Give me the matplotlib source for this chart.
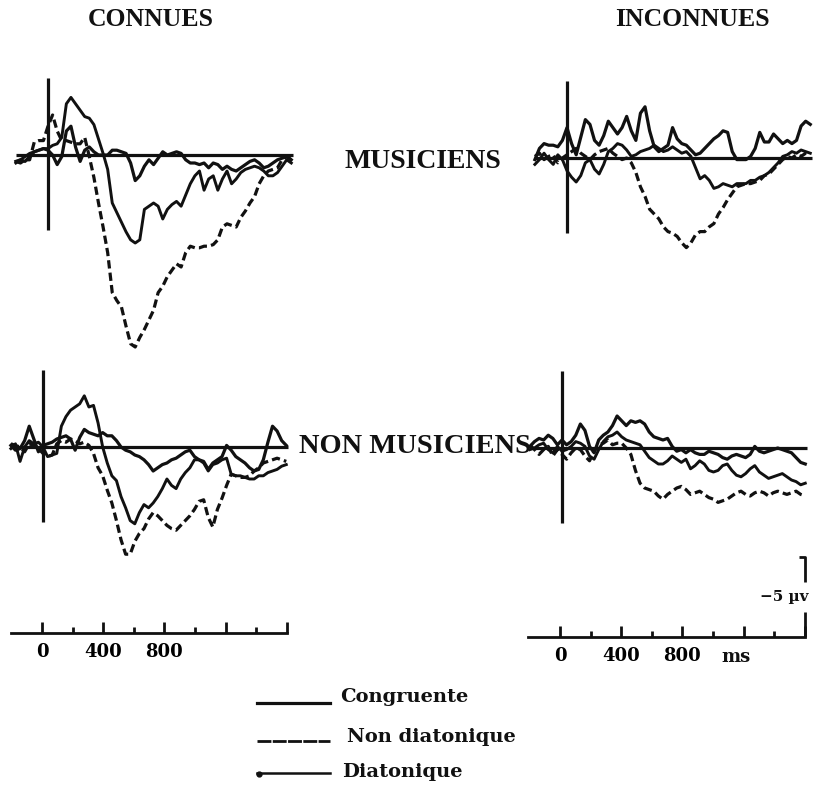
import matplotlib
matplotlib.use("Agg")
import matplotlib.pyplot as plt
from matplotlib.lines import Line2D

# ---------------------------------------------------------------- data
# Grand-average ERPs, amplitude in microvolts (negative plotted upward),
# sampled every 30 ms from -210 ms to 1590 ms after note onset.
TIME_MS = list(range(-210, 1591, 30))

CONDITIONS = ["Congruente", "Non diatonique", "Diatonique"]

# Familiar melodies (CONNUES), musicians
conn_mus_congruente = [0.4, 0.3, 0.4, 0.1, -0.2, -0.3, -0.4, -0.3, 0.0, 0.6, 0.1, -1.5, -1.8, -0.5, 0.4, -0.3,
                       -0.5, -0.2, 0.0, 0.0, 0.0, -0.3, -0.3, -0.2, -0.1, 0.5, 1.6, 1.3, 0.7, 0.3, 0.6, 0.2,
                       -0.2, 0.0, -0.1, -0.2, -0.1, 0.3, 0.5, 0.5, 0.6, 0.5, 0.8, 0.5, 0.6, 0.9, 0.7, 0.9,
                       1.0, 0.8, 0.6, 0.4, 0.3, 0.5, 0.8, 0.7, 0.5, 0.3, 0.2, 0.1, 0.3]
conn_mus_nondiat = [0.4, 0.5, 0.3, 0.3, -0.8, -0.9, -0.9, -1.8, -2.5, -1.5, -0.9, -0.9, -0.8, -0.7, -0.7, -1.1,
                    0.1, 1.4, 3.0, 4.5, 6.1, 8.6, 9.1, 9.5, 10.7, 11.8, 12.0, 11.4, 10.9, 10.3, 9.7, 8.6,
                    8.2, 7.6, 7.2, 6.8, 7.0, 6.1, 5.7, 5.8, 5.8, 5.7, 5.7, 5.6, 5.3, 4.5, 4.3, 4.4,
                    4.5, 3.9, 3.5, 3.0, 2.6, 1.8, 1.3, 1.0, 0.9, 0.8, 0.3, 0.1, 0.3]
conn_mus_diat = [0.5, 0.3, 0.1, -0.1, -0.2, -0.3, -0.4, -0.4, -0.6, -0.7, -1.1, -3.2, -3.6, -3.2, -2.8, -2.4,
                 -2.3, -1.9, -1.0, -0.1, 0.9, 3.0, 3.6, 4.2, 4.8, 5.3, 5.5, 5.3, 3.4, 3.2, 3.0, 3.2,
                 4.0, 3.4, 3.1, 2.9, 3.2, 2.5, 1.8, 1.3, 1.0, 2.2, 1.5, 1.3, 2.2, 1.5, 1.0, 1.8,
                 1.5, 1.1, 0.9, 0.8, 0.7, 0.8, 1.0, 1.3, 1.3, 1.1, 0.7, 0.3, 0.5]

# Unfamiliar melodies (INCONNUES), musicians
inc_mus_congruente = [0.1, -0.6, -0.9, -0.8, -0.8, -0.7, -1.1, -1.9, -0.9, -0.2, -1.3, -2.4, -2.1, -1.1, -0.8, -1.4,
                      -2.3, -1.9, -1.5, -1.9, -2.6, -1.7, -1.1, -2.8, -3.2, -1.7, -0.7, -0.4, -0.6, -0.8, -1.9, -1.2,
                      -0.9, -0.8, -0.5, -0.2, -0.3, -0.6, -0.9, -1.2, -1.4, -1.7, -1.6, -0.4, 0.1, 0.1, 0.1, -0.1,
                      -0.6, -1.6, -1.0, -1.0, -1.5, -1.2, -0.9, -1.1, -0.9, -1.1, -2.0, -2.3, -2.1]
inc_mus_nondiat = [-0.1, -0.3, 0.1, -0.1, -0.2, 0.3, 0.0, -0.2, -0.4, -0.6, -0.3, -0.1, 0.1, -0.2, -0.4, -0.5,
                   -0.6, -0.3, -0.1, 0.1, 0.0, 0.3, 0.9, 1.8, 2.4, 3.2, 3.5, 3.8, 4.3, 4.6, 4.7, 4.9,
                   5.3, 5.6, 5.3, 4.8, 4.6, 4.6, 4.3, 4.1, 3.5, 3.1, 2.6, 2.2, 1.8, 1.7, 1.6, 1.6,
                   1.5, 1.4, 1.1, 1.0, 0.7, 0.4, 0.1, -0.1, 0.0, -0.2, -0.1, -0.3, -0.2]
inc_mus_diat = [0.4, 0.1, -0.3, 0.1, 0.4, -0.2, 0.1, 0.8, 1.2, 1.5, 1.1, 0.3, 0.1, 0.7, 1.0, 0.4,
                -0.4, -0.6, -0.9, -0.8, -0.5, -0.1, -0.2, -0.4, -0.5, -0.6, -0.8, -0.6, -0.4, -0.5, -0.7, -0.5,
                -0.3, -0.4, -0.1, 0.6, 1.3, 1.1, 1.4, 1.9, 1.8, 1.6, 1.7, 1.8, 1.6, 1.6, 1.6, 1.4,
                1.4, 1.2, 1.1, 0.9, 0.6, 0.3, -0.1, -0.2, -0.4, -0.3, -0.5, -0.4, -0.3]

# Familiar melodies (CONNUES), non-musicians
conn_non_congruente = [-0.1, 0.2, 0.1, -0.4, -1.3, -0.5, 0.3, -0.1, -0.2, -0.3, -0.5, -0.6, -0.7, -0.5, 0.2, -0.6,
                       -1.1, -0.9, -0.8, -0.7, -0.9, -0.7, -0.7, -0.4, 0.0, 0.2, 0.3, 0.5, 0.6, 0.8, 1.1, 1.5,
                       1.3, 1.1, 1.0, 0.8, 0.7, 0.5, 0.3, 0.2, 0.6, 0.8, 0.9, 1.4, 1.0, 0.8, 0.6, -0.1,
                       0.2, 0.6, 0.8, 1.0, 1.3, 1.5, 1.4, 0.8, -0.3, -1.3, -1.0, -0.4, -0.1]
conn_non_nondiat = [-0.2, -0.1, 0.0, 0.3, -0.2, -0.1, 0.1, 0.4, 0.6, 0.5, -0.2, -0.4, -0.3, -0.5, -0.4, -0.2,
                    -0.3, -0.1, 0.4, 1.3, 1.8, 2.7, 3.5, 4.6, 5.8, 6.7, 6.7, 5.9, 5.4, 5.1, 4.5, 4.1,
                    4.3, 4.6, 4.9, 5.1, 5.2, 4.9, 4.6, 4.3, 3.9, 3.4, 3.3, 4.4, 5.0, 3.9, 3.2, 2.4,
                    1.7, 1.8, 1.9, 1.9, 1.8, 1.5, 1.3, 1.0, 0.9, 0.8, 0.7, 0.8, 0.9]
conn_non_diat = [0.1, -0.2, 0.9, 0.0, -0.4, -0.2, -0.3, 0.0, 0.6, 0.5, 0.4, -1.3, -1.9, -2.3, -2.5, -2.7,
                 -3.2, -2.5, -2.6, -1.5, 0.0, 1.0, 1.8, 2.1, 3.1, 3.8, 4.6, 4.8, 4.1, 3.6, 3.8, 3.5,
                 3.1, 2.6, 2.0, 2.4, 2.6, 2.0, 1.6, 1.3, 0.8, 0.8, 1.0, 1.5, 1.1, 1.0, 0.8, 0.7,
                 1.7, 1.8, 1.8, 1.9, 2.0, 2.0, 1.8, 1.8, 1.6, 1.5, 1.4, 1.2, 1.1]

# Unfamiliar melodies (INCONNUES), non-musicians
inc_non_congruente = [-0.1, -0.4, -0.6, -0.5, -0.8, -0.6, -0.2, -0.5, -0.2, -0.4, -0.8, -1.5, -1.1, -0.1, 0.3, -0.5,
                      -0.8, -1.0, -1.4, -2.0, -1.7, -1.4, -1.7, -1.6, -1.7, -1.5, -1.0, -0.7, -0.6, -0.5, -0.6, -0.1,
                      0.2, 0.1, 0.3, 0.1, 0.3, 0.4, 0.4, 0.2, 0.3, 0.4, 0.6, 0.7, 0.5, 0.4, 0.5, 0.6,
                      0.4, -0.1, 0.2, 0.3, 0.2, 0.1, 0.0, 0.1, 0.2, 0.3, 0.6, 0.9, 1.0]
inc_non_nondiat = [-0.2, 0.1, 0.4, 0.1, -0.1, 0.5, 0.1, 0.4, 0.7, 0.3, 0.0, 0.1, 0.5, 0.8, 0.2, -0.2,
                   -0.3, -0.5, -0.2, -0.3, -0.3, 0.0, 0.4, 1.4, 2.2, 2.5, 2.6, 2.7, 3.0, 3.2, 2.9, 2.7,
                   2.5, 2.4, 2.6, 2.9, 2.8, 2.7, 2.9, 3.1, 3.2, 3.4, 3.3, 3.2, 3.0, 2.8, 2.7, 2.9,
                   3.0, 2.8, 2.7, 2.8, 3.0, 2.8, 2.7, 2.8, 2.9, 2.8, 2.7, 2.9, 3.0]
inc_non_diat = [0.1, 0.0, -0.2, -0.3, 0.1, 0.3, -0.1, 0.2, 0.1, -0.1, -0.4, -0.3, -0.1, 0.5, 0.7, 0.1,
                -0.4, -0.7, -0.8, -1.0, -0.7, -0.5, -0.4, -0.3, -0.2, 0.2, 0.6, 0.8, 1.0, 1.0, 0.8, 0.5,
                0.7, 0.9, 0.7, 1.3, 1.1, 0.8, 1.0, 1.4, 1.5, 1.4, 1.1, 1.0, 1.4, 1.7, 1.8, 1.6,
                1.3, 1.1, 1.5, 1.7, 1.9, 1.8, 1.7, 1.6, 1.8, 2.0, 2.1, 2.3, 2.2]

TIME_TICKS_MAJOR = [0, 400, 800, 1200, 1600]
TIME_TICKS_MINOR = [200, 600, 1000, 1400]
TIME_TICK_LABELS = ["0", "400", "800", "", ""]
CALIBRATION_UV = -5

# ---------------------------------------------------------------- layout
W, H = 814, 787
PX_PER_MS = 0.153
PX_PER_UV = 16.0
INK = "#111111"

fig = plt.figure(figsize=(W / 100, H / 100), dpi=100)
fig.patch.set_facecolor("white")

SERIF = ["Liberation Serif", "DejaVu Serif"]
WIDE_SERIF = ["DejaVu Serif"]


def px_axes(left_px, top_px, width_px, height_px):
    ax = fig.add_axes([left_px / W, 1 - (top_px + height_px) / H, width_px / W, height_px / H])
    ax.patch.set_alpha(0)
    return ax


def erp_panel(x0_px, base_px, traces):
    t_lo, t_hi, v_up, v_dn = -240, 1640, -6.5, 13.0
    ax = px_axes(x0_px + t_lo * PX_PER_MS, base_px + v_up * PX_PER_UV,
                 (t_hi - t_lo) * PX_PER_MS, (v_dn - v_up) * PX_PER_UV)
    ax.set_xlim(t_lo, t_hi)
    ax.set_ylim(v_dn, v_up)          # negative up
    ax.axis("off")
    ax.plot([-210, 1600], [0, 0], color=INK, lw=2.3, solid_capstyle="butt")
    ax.plot([0, 0], [-4.8, 4.7], color=INK, lw=2.3, solid_capstyle="butt")
    styles = {
        "Congruente": dict(lw=2.3, ls="-"),
        "Non diatonique": dict(lw=2.3, ls=(0, (2.6, 1.3)), dash_capstyle="butt"),
        "Diatonique": dict(lw=2.1, ls="-"),
    }
    for name, values in zip(CONDITIONS, traces):
        ax.plot(TIME_MS, values, color=INK, solid_joinstyle="round", **styles[name])
    return ax


erp_panel(48, 155, [conn_mus_congruente, conn_mus_nondiat, conn_mus_diat])
erp_panel(567, 158, [inc_mus_congruente, inc_mus_nondiat, inc_mus_diat])
erp_panel(43, 447, [conn_non_congruente, conn_non_nondiat, conn_non_diat])
erp_panel(562, 448, [inc_non_congruente, inc_non_nondiat, inc_non_diat])


def time_axis(x0_px, axis_y_px, t_lo):
    ax = px_axes(x0_px + t_lo * PX_PER_MS, axis_y_px - 20, (1600 - t_lo) * PX_PER_MS, 20)
    ax.set_xlim(t_lo, 1600)
    ax.set_ylim(0, 1)
    for side in ("left", "right", "top"):
        ax.spines[side].set_visible(False)
    ax.spines["bottom"].set_linewidth(2.0)
    ax.spines["bottom"].set_color(INK)
    ax.set_yticks([])
    ax.set_xticks(TIME_TICKS_MAJOR)
    ax.set_xticklabels(TIME_TICK_LABELS)
    ax.set_xticks(TIME_TICKS_MINOR, minor=True)
    ax.tick_params(axis="x", which="major", direction="in", length=8, width=2.0, color=INK,
                   pad=7, labelsize=13)
    ax.tick_params(axis="x", which="minor", direction="in", length=4.5, width=2.0, color=INK)
    for lab in ax.get_xticklabels():
        lab.set_fontfamily(WIDE_SERIF)
        lab.set_fontweight("bold")
    return ax


time_axis(42, 633, -200)
right_axis = time_axis(560, 637, -210)
right_axis.text(1150, -0.55, "ms", transform=right_axis.get_xaxis_transform(), ha="center", va="top",
                fontsize=13, fontweight="bold", family=WIDE_SERIF, color=INK)

# amplitude calibration bar, drawn on the same microvolt scale as the traces
cal = px_axes(560 - 210 * PX_PER_MS, 637 - 6 * PX_PER_UV, 1810 * PX_PER_MS + 30, 6 * PX_PER_UV)
cal.set_xlim(-210, 1600 + 30 / PX_PER_MS)
cal.set_ylim(0, -6)
cal.axis("off")
cal.plot([1600, 1600], [0, 0.31 * CALIBRATION_UV], color=INK, lw=2.0, solid_capstyle="butt")
cal.plot([1560, 1600, 1600], [CALIBRATION_UV, CALIBRATION_UV, 0.69 * CALIBRATION_UV], color=INK, lw=2.0,
         solid_capstyle="butt")
cal.text(1305, 0.5 * CALIBRATION_UV, "\u2212%d \u00b5v" % abs(CALIBRATION_UV), ha="left", va="center",
         fontsize=11, fontweight="bold", family=WIDE_SERIF, color=INK, clip_on=False)

# ---------------------------------------------------------------- headings
def heading(x_px, y_px, s, size):
    fig.text(x_px / W, 1 - y_px / H, s, ha="center", va="center", fontsize=size,
             fontweight="bold", family=SERIF, color=INK)


heading(151, 19, "CONNUES", 18.5)
heading(692, 19, "INCONNUES", 18.5)
heading(423, 161, "MUSICIENS", 20)
heading(415, 447, "NON MUSICIENS", 20.5)

# ---------------------------------------------------------------- legend
legend_rows = [
    ("Congruente", 703, 340, 697, dict(lw=2.3, ls="-")),
    ("Non diatonique", 741, 347, 737, dict(lw=2.0, ls=(0, (5.0, 0.5)))),
    ("Diatonique", 773, 342, 772, dict(lw=1.8, ls="-")),
]
for label, y_px, text_x, text_y, style in legend_rows:
    y = 1 - y_px / H
    fig.add_artist(Line2D([257 / W, 330 / W], [y, y], transform=fig.transFigure, color=INK, **style))
    fig.text(text_x / W, 1 - text_y / H, label, ha="left", va="center", fontsize=14,
             fontweight="bold", family=WIDE_SERIF, color=INK)
fig.add_artist(Line2D([259 / W], [1 - 774 / H], transform=fig.transFigure, marker="o", ms=3.5,
                      color=INK, ls="none"))

fig.savefig("out.png", dpi=100, facecolor="white")
